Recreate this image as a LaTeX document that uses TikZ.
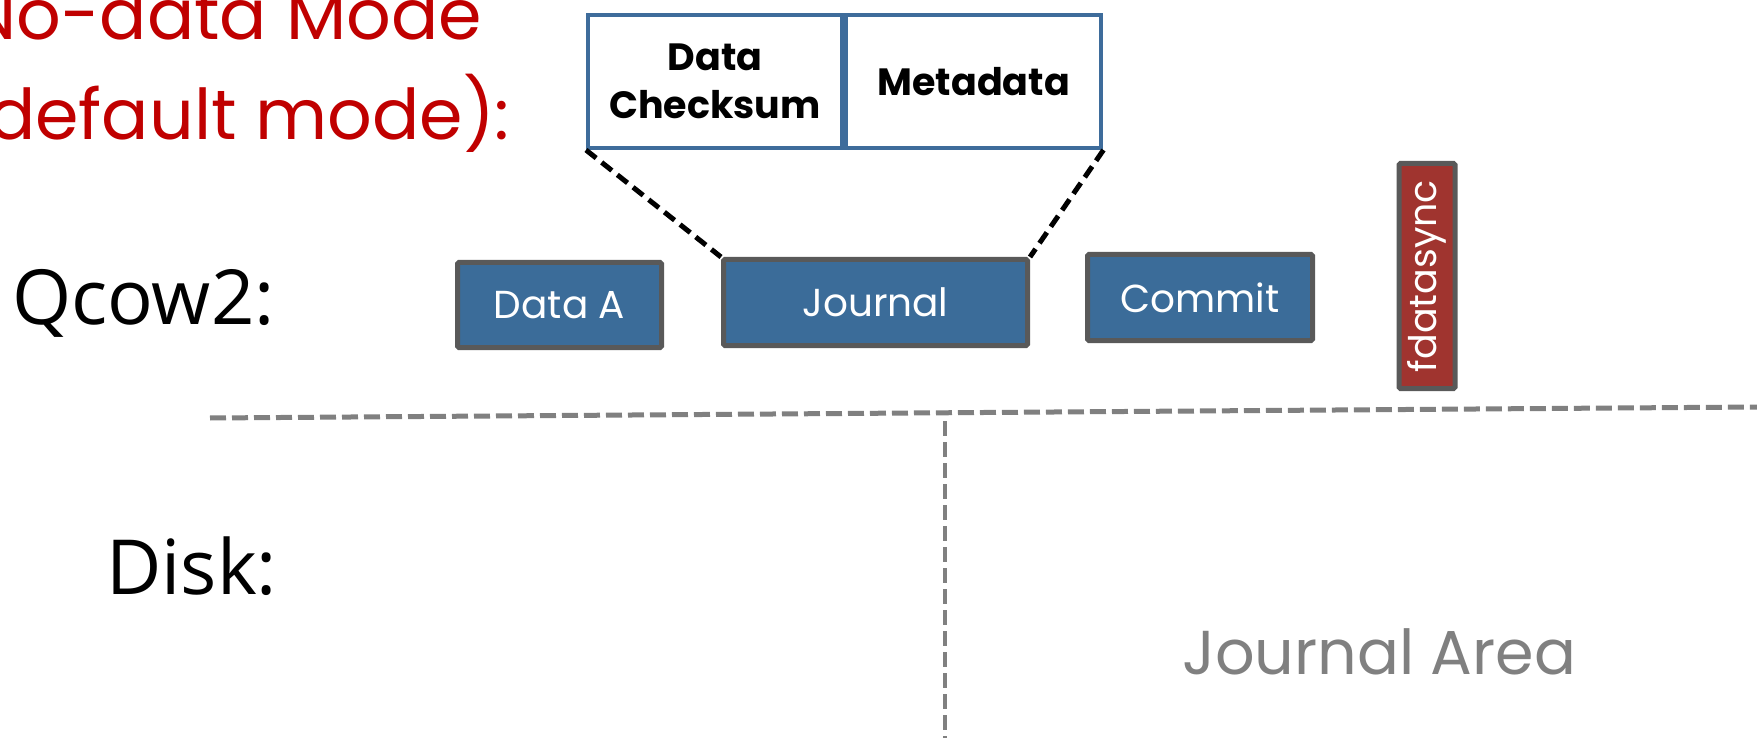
\documentclass[tikz,border=0pt]{standalone}
\usepackage{fontspec}
\setmainfont{Poppins}
\newfontfamily\uifont{Open Sans}
\definecolor{blockblue}{RGB}{59,108,153}
\definecolor{blockedge}{RGB}{89,89,89}
\definecolor{syncred}{RGB}{160,52,47}
\definecolor{frameblue}{RGB}{62,108,155}
\definecolor{titlered}{RGB}{192,0,0}
\definecolor{guidegray}{RGB}{128,128,128}
\begin{document}
\begin{tikzpicture}[x=1pt,y=-1pt,
  block/.style={draw=blockedge, line width=5pt, fill=blockblue, rounded corners=1.5pt,
    inner sep=0pt, text=white, font=\fontsize{39}{39}\selectfont},
  syncblock/.style={block, fill=syncred, font=\fontsize{38}{38}\selectfont},
  cell/.style={draw=frameblue, line width=4.4pt, inner sep=0pt, align=center,
    font=\fontsize{38}{48}\selectfont\bfseries},
  zoomline/.style={draw=black, line width=5pt, dash pattern=on 13pt off 7pt},
  splitline/.style={draw=guidegray, line width=5pt, dash pattern=on 16pt off 6pt},
  sideline/.style={draw=guidegray, line width=4.5pt, dash pattern=on 15pt off 6pt},
  rowlabel/.style={anchor=base west, inner sep=0pt, font=\uifont\fontsize{76}{76}\selectfont},
  modetext/.style={anchor=base east, inner sep=0pt, text=titlered, font=\fontsize{70}{70}\selectfont}]
\path[use as bounding box] (0,0) rectangle (1757,738);
\clip (0,0) rectangle (1757,738);

% mode caption
\node[modetext] (mode1) at (482,40) {No-data Mode};
\node[modetext] (mode2) at (510,140) {(default mode):};

% journal record layout
\node[cell, minimum width=253.6pt, minimum height=132.6pt] (cs) at (715,81.5) {Data\\Checksum};
\node[cell, minimum width=255.1pt, minimum height=132.6pt] (md) at (973.7,81.5) {Metadata};

% row labels
\node[rowlabel] (qcow) at (12,324) {Qcow2:};
\node[rowlabel] (disk) at (106,594) {Disk:};

% write sequence
\node[block, minimum width=204pt, minimum height=85pt] (dataA) at (559.5,305) {Data A};
\node[block, minimum width=304pt, minimum height=86pt] (journal) at (875.5,302.5) {Journal};
\node[block, minimum width=225pt, minimum height=86pt] (commit) at (1200,297.5) {Commit};
\node[syncblock, minimum width=225pt, minimum height=56pt, rotate=90] (sync) at (1427,276) {fdatasync};

% zoom lines from the journal block to its layout
\draw[zoomline] (cs.south west) -- (journal.north west);
\draw[zoomline] (md.south east) -- (journal.north east);

% host / disk separator and disk areas
\coordinate (sepL) at (210,418);
\coordinate (sepR) at (1757,407);
\coordinate (areaT) at (945,421);
\coordinate (areaB) at (945,738);
\draw[splitline] (sepL) -- (sepR);
\draw[sideline] (areaT) -- (areaB);

\node[anchor=base west, inner sep=0pt, text=guidegray, font=\fontsize{62}{62}\selectfont] (jarea) at (1182,674) {Journal Area};
\end{tikzpicture}
\end{document}
